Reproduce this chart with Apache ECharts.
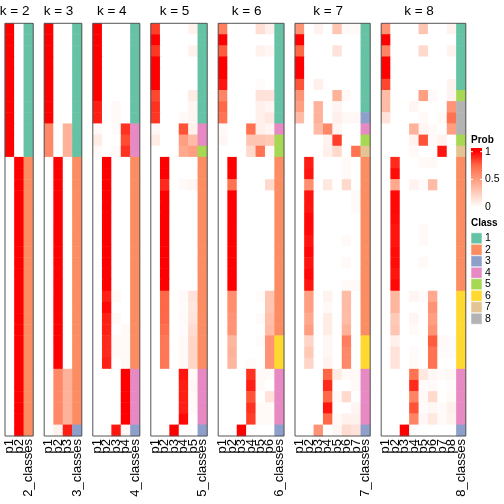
<!DOCTYPE html>
<html><head><meta charset="utf-8">
<script src="https://cdn.jsdelivr.net/npm/echarts@6/dist/echarts.min.js"></script>
<style>html,body{margin:0;padding:0;background:#fff}#c{width:504px;height:504px}</style>
</head><body><div id="c"></div>
<script>
const ks = [2,3,4,5,6,7,8];
const panelTitles = ['k = 2','k = 3','k = 4','k = 5','k = 6','k = 7','k = 8'];
const classColors = ['#66C2A5','#FC8D62','#8DA0CB','#E78AC3','#A6D854','#FFD92F','#E5C494','#B3B3B3'];
const classNames = ['1','2','3','4','5','6','7','8'];
const probTicks = ['1','0.5','0'];

const colLabels2 = ['p1','p2','2_classes'];
const colLabels3 = ['p1','p2','p3','3_classes'];
const colLabels4 = ['p1','p2','p3','p4','4_classes'];
const colLabels5 = ['p1','p2','p3','p4','p5','5_classes'];
const colLabels6 = ['p1','p2','p3','p4','p5','p6','6_classes'];
const colLabels7 = ['p1','p2','p3','p4','p5','p6','p7','7_classes'];
const colLabels8 = ['p1','p2','p3','p4','p5','p6','p7','p8','8_classes'];

const class2 = [1,1,1,1,1,1,1,1,1,1,1,1,2,2,2,2,2,2,2,2,2,2,2,2,2,2,2,2,2,2,2,2,2,2,2,2,2];
const class3 = [1,1,1,1,1,1,1,1,1,1,1,1,2,2,2,2,2,2,2,2,2,2,2,2,2,2,2,2,2,2,2,2,2,2,2,2,3];
const class4 = [1,1,1,1,1,1,1,1,1,4,4,4,2,2,2,2,2,2,2,2,2,2,2,2,2,2,2,2,2,2,2,4,4,4,4,4,3];
const class5 = [1,1,1,1,1,1,1,1,1,4,4,5,2,2,2,2,2,2,2,2,2,2,2,2,2,2,2,2,2,2,2,4,4,4,4,4,3];
const class6 = [1,1,1,1,1,1,1,1,1,4,5,5,2,2,2,2,2,2,2,2,2,2,2,2,2,2,2,2,6,6,6,4,4,4,4,4,3];
const class7 = [1,1,1,1,1,1,1,1,3,4,5,7,2,2,2,2,2,2,2,2,2,2,2,2,2,2,2,2,6,6,6,4,4,4,4,4,3];
const class8 = [1,1,1,1,1,1,5,8,8,8,5,7,2,2,2,2,2,2,2,2,2,2,2,2,6,6,6,6,6,6,6,4,4,4,4,4,3];

const prob2 = [
[1,0],[1,0],[1,0],[1,0],[1,0],[1,0],[1,0],[1,0],[1,0],[1,0],[1,0],[1,0],
[0,1],[0,1],[0,1],[0,1],[0,1],[0,1],[0,1],[0,1],[0,1],[0,1],[0,1],[0,1],[0,1],
[0,1],[0,1],[0,1],[0,1],[0,1],[0,1],[0,1],[0,1],[0,1],[0,1],[0,1],[0,1]];
const prob3 = [
[1,0,0],[1,0,0],[1,0,0],[1,0,0],[1,0,0],[1,0,0],[1,0,0],[1,0,0],[1,0,0],
[0.6,0,0.4],[0.6,0,0.4],[0.6,0,0.4],
[0,1,0],[0,1,0],[0,1,0],[0,1,0],[0,1,0],[0,1,0],[0,1,0],[0,1,0],[0,1,0],[0,1,0],
[0,1,0],[0,1,0],[0,1,0],[0,1,0],[0,1,0],[0,1,0],[0,1,0],[0,1,0],[0,1,0],
[0,0.6,0.4],[0,0.6,0.4],[0,0.6,0.4],[0,0.6,0.4],[0,0.6,0.4],
[0,0.07,0.93]];
const prob4 = [
[1,0,0,0],[1,0,0,0],[1,0,0,0],[1,0,0,0],[1,0,0,0],[1,0,0,0],[1,0,0,0],
[0.93,0,0.03,0],[0.93,0,0.03,0],
[0.03,0,0.02,0.88],[0.1,0,0,0.82],[0.03,0,0.03,0.88],
[0,1,0,0],[0,1,0,0],[0,1,0,0],[0,1,0,0],[0,1,0,0],[0,1,0,0],[0,1,0,0],[0,1,0,0],
[0,1,0,0],[0,1,0,0],[0,1,0,0],[0,1,0,0],
[0,0.92,0.03,0],[0,0.98,0,0],[0,0.92,0.03,0],[0,0.92,0,0.03],[0,0.9,0.03,0.03],
[0,0.9,0.03,0.03],[0,0.92,0,0.03],
[0,0,0,1],[0,0,0,1],[0,0,0,1],[0,0,0,1],[0,0,0,1],
[0,0,0.95,0.04]];
const prob5 = [
[0.85,0,0,0,0.07],[1,0,0,0,0],[0.87,0,0,0,0.07],[1,0,0,0,0],[1,0,0,0,0],[1,0,0,0,0],
[0.83,0,0,0,0.1],[0.88,0,0,0,0.05],[0.87,0,0,0.03,0.05],
[0.04,0,0,0.8,0.07],[0.1,0,0,0.5,0.35],[0,0,0,0.45,0.5],
[0,1,0,0,0],[0,1,0,0,0],[0,0.9,0,0.03,0.05],
[0,1,0,0,0],[0,1,0,0,0],[0,1,0,0,0],[0,1,0,0,0],[0,1,0,0,0],[0,1,0,0,0],[0,1,0,0,0],
[0,1,0,0,0],[0,1,0,0,0],
[0,0.75,0,0.03,0.15],[0,0.75,0,0.02,0.13],[0,0.75,0,0.03,0.15],[0,0.72,0,0.02,0.18],
[0,0.68,0,0.03,0.22],[0,0.68,0,0.03,0.22],[0,0.68,0,0.03,0.22],
[0,0,0,0.95,0.03],[0,0,0,0.93,0.04],[0,0,0,0.93,0.03],[0,0,0,0.93,0.03],[0,0,0,0.98,0],
[0,0,1,0,0]];
const prob6 = [
[0.65,0,0,0,0.17,0.08],[1,0,0,0,0,0],[0.78,0,0,0,0.07,0.04],[1,0,0,0,0,0],[1,0,0,0,0,0],
[0.95,0,0,0,0.02,0],[0.62,0,0,0,0.15,0.15],[0.75,0,0,0,0.08,0.05],[0.7,0,0,0,0.08,0.12],
[0.03,0,0,0.7,0.08,0.05],[0.04,0,0,0.3,0.3,0.28],[0,0,0,0.2,0.7,0.03],
[0,1,0,0,0,0],[0,1,0,0,0,0],[0,0.7,0,0,0,0.2],
[0,1,0,0,0,0],[0,1,0,0,0,0],[0,1,0,0,0,0],[0,1,0,0,0,0],[0,1,0,0,0,0],[0,1,0,0,0,0],
[0,1,0,0,0,0],[0,1,0,0,0,0],[0,1,0,0,0,0],
[0,0.58,0,0,0.02,0.3],[0,0.58,0,0,0,0.3],[0,0.55,0,0,0.02,0.33],[0,0.55,0,0,0,0.35],
[0,0.38,0,0,0.02,0.55],[0,0.4,0,0,0,0.55],[0,0.38,0,0.02,0,0.55],
[0,0,0,0.88,0.03,0.03],[0,0,0,0.93,0.03,0],[0,0,0,0.8,0,0.15],[0,0,0,0.88,0.03,0.03],
[0,0,0,0.85,0.03,0.03],
[0,0,1,0,0,0]];
const prob7 = [
[0.55,0,0.06,0,0.3,0.03,0.03],[1,0,0,0,0,0,0],[0.75,0,0,0,0.15,0,0],[1,0,0,0,0,0,0],
[1,0,0,0,0,0,0],[0.8,0,0.08,0,0,0,0],[0.55,0,0,0,0.4,0.03,0],[0.5,0,0.4,0,0.05,0,0],
[0.35,0,0.4,0,0.08,0.04,0.04],[0,0,0.35,0.6,0.05,0,0],[0,0,0,0.06,0.85,0,0],
[0,0,0,0.08,0.2,0,0.7],
[0,0.93,0,0,0,0.03,0],[0,0.95,0,0,0,0.03,0],[0,0.58,0,0.12,0,0.2,0],
[0,0.95,0,0,0,0,0.03],[0,0.95,0,0,0,0,0.03],[0,0.98,0,0,0,0,0],[0,0.98,0,0,0,0,0],
[0,0.95,0,0,0,0.03,0],[0,0.98,0,0,0,0,0],[0,0.95,0,0,0,0.03,0],[0,0.98,0,0,0,0,0],
[0,0.95,0,0,0,0.03,0.03],
[0,0.5,0,0.06,0,0.35,0],[0,0.5,0,0.03,0,0.35,0],[0,0.45,0,0.1,0,0.35,0],[0,0.5,0,0.1,0,0.4,0],
[0,0.22,0,0.04,0,0.65,0],[0,0.28,0,0.04,0,0.6,0],[0,0.22,0,0.06,0,0.6,0],
[0,0,0,0.75,0.1,0.03,0.03],[0,0,0,0.9,0,0,0.03],[0,0,0,0.75,0.03,0.2,0],[0,0,0,0.95,0,0,0.05],
[0,0,0,0.75,0.03,0.07,0.07],
[0,0,0.55,0,0.04,0.18,0.15]];
const prob8 = [
[0.55,0,0,0,0.3,0,0,0.06],[1,0,0,0,0,0,0,0],[0.62,0,0,0,0.2,0,0,0.06],[1,0,0,0,0,0,0,0],
[1,0,0,0,0,0,0,0],[0.83,0,0,0,0,0,0,0.06],[0.35,0,0,0,0.5,0.03,0,0.06],
[0.35,0,0,0.05,0,0,0,0.55],[0.15,0,0,0,0.03,0,0.03,0.7],[0,0,0,0.4,0.05,0.03,0,0.5],
[0,0,0,0.06,0.8,0.03,0.06,0],[0,0,0,0.03,0,0,0.95,0],
[0,0.9,0,0,0.03,0.03,0,0],[0,0.97,0,0,0,0,0,0],[0,0.45,0,0.06,0.02,0.35,0,0],
[0,0.98,0,0,0,0,0,0],[0,0.98,0,0,0,0,0,0],[0,0.97,0,0,0,0,0,0],[0,0.95,0,0,0.03,0,0,0],
[0,0.95,0,0,0.03,0,0,0],[0,0.97,0,0,0,0,0,0],[0,0.97,0,0,0.03,0,0,0],[0,0.95,0,0,0,0,0,0],
[0,0.98,0,0,0,0,0,0],
[0,0.38,0,0.05,0.02,0.45,0,0],[0,0.38,0,0,0,0.55,0,0],[0,0.28,0,0.05,0,0.5,0,0],
[0,0.3,0,0.03,0,0.55,0,0],[0,0.08,0,0,0,0.78,0.03,0.02],[0,0.15,0,0.02,0,0.7,0.02,0.02],
[0,0.15,0,0.03,0,0.7,0,0],
[0,0,0,0.7,0.12,0.04,0.03,0.04],[0,0,0,0.9,0.02,0.03,0,0.02],[0,0,0,0.62,0.03,0.2,0,0.03],
[0,0,0,0.8,0.02,0.04,0.02,0.08],[0,0,0,0.62,0.04,0.12,0.03,0.06],
[0,0,1,0,0,0,0,0]];

const probs = {2:prob2,3:prob3,4:prob4,5:prob5,6:prob6,7:prob7,8:prob8};
const classes = {2:class2,3:class3,4:class4,5:class5,6:class6,7:class7,8:class8};
const colLabels = {2:colLabels2,3:colLabels3,4:colLabels4,5:colLabels5,6:colLabels6,7:colLabels7,8:colLabels8};

// white (0) -> red (1), stops approximating a LAB ramp
const probRamp = ['#FFFFFF','#FFCFBF','#FF9E81','#FF6846','#FF0000'];

const FONT = '"Liberation Sans", Arial, Helvetica, sans-serif';
const colW = 9.4, gap = 11, topY = 23.3, bodyH = 412.7, left0 = 5;
const rowIds = prob2.map((_, i) => 'r' + i);

const grids = [], xAxes = [], yAxes = [], series = [], graphics = [];
const probIdx = [], classIdx = [];
let left = left0;
ks.forEach((k, i) => {
  const w = (k + 1) * colW;
  grids.push({left: left, top: topY, width: w, height: bodyH, show: false, containLabel: false});
  xAxes.push({type: 'category', gridIndex: i, data: colLabels[k], position: 'bottom',
    axisLine: {show: false}, axisTick: {show: false}, splitLine: {show: false},
    axisLabel: {rotate: 90, margin: 3, fontSize: 13, color: '#000', fontFamily: FONT, interval: 0}});
  yAxes.push({type: 'category', gridIndex: i, data: rowIds, inverse: true, show: false});
  const pd = [];
  probs[k].forEach((row, r) => row.forEach((v, c) => pd.push([c, r, v])));
  probIdx.push(series.length);
  series.push({type: 'heatmap', xAxisIndex: i, yAxisIndex: i, data: pd, progressive: 0,
    emphasis: {disabled: true}, silent: true});
  const cd = classes[k].map((v, r) => [k, r, v]);
  classIdx.push(series.length);
  series.push({type: 'heatmap', xAxisIndex: i, yAxisIndex: i, data: cd, progressive: 0,
    emphasis: {disabled: true}, silent: true});
  graphics.push({type: 'rect', z: 100, silent: true,
    shape: {x: left, y: topY, width: w, height: bodyH},
    style: {fill: 'none', stroke: '#555', lineWidth: 1}});
  graphics.push({type: 'text', z: 100, silent: true, x: left + w / 2 - 4.5, y: 11,
    style: {text: panelTitles[i], font: '13.5px ' + FONT, fill: '#000', textAlign: 'center', textVerticalAlign: 'middle'}});
  left += w + gap;
});

// legend: Prob
const LX = 471;
graphics.push({type: 'text', z: 100, x: LX, y: 140,
  style: {text: 'Prob', font: 'bold 10px ' + FONT, fill: '#000', textAlign: 'left', textVerticalAlign: 'middle'}});
graphics.push({type: 'rect', z: 100, shape: {x: LX, y: 148, width: 11, height: 60},
  style: {fill: {type: 'linear', x: 0, y: 0, x2: 0, y2: 1, colorStops: [
    {offset: 0, color: probRamp[4]}, {offset: 0.06, color: probRamp[4]},
    {offset: 0.29, color: probRamp[3]}, {offset: 0.53, color: probRamp[2]},
    {offset: 0.76, color: probRamp[1]}, {offset: 0.99, color: probRamp[0]}, {offset: 1, color: probRamp[0]}]}}});
const tickYs = [151.7, 179.4, 207];
probTicks.forEach((t, i) => {
  graphics.push({type: 'line', z: 101, shape: {x1: LX, y1: tickYs[i], x2: LX + 2, y2: tickYs[i]}, style: {stroke: '#fff', lineWidth: 1}});
  graphics.push({type: 'line', z: 101, shape: {x1: LX + 9, y1: tickYs[i], x2: LX + 11, y2: tickYs[i]}, style: {stroke: '#fff', lineWidth: 1}});
  graphics.push({type: 'text', z: 100, x: LX + 14, y: tickYs[i],
    style: {text: t, font: '10.5px ' + FONT, fill: '#000', textAlign: 'left', textVerticalAlign: 'middle'}});
});
// legend: Class
graphics.push({type: 'text', z: 100, x: LX, y: 223.3,
  style: {text: 'Class', font: 'bold 10px ' + FONT, fill: '#000', textAlign: 'left', textVerticalAlign: 'middle'}});
classNames.forEach((n, i) => {
  const cy = 238.3 + i * 11.49;
  graphics.push({type: 'rect', z: 100, shape: {x: LX, y: cy - 5.5, width: 11, height: 11},
    style: {fill: classColors[i], stroke: '#fff', lineWidth: 0.5}});
  graphics.push({type: 'text', z: 100, x: LX + 14, y: cy,
    style: {text: n, font: '10.5px ' + FONT, fill: '#000', textAlign: 'left', textVerticalAlign: 'middle'}});
});

const chart = echarts.init(document.getElementById('c'), null, {renderer: 'canvas'});
chart.setOption({
  animation: false,
  backgroundColor: '#fff',
  grid: grids, xAxis: xAxes, yAxis: yAxes,
  visualMap: [
    {type: 'continuous', show: false, min: 0, max: 1, dimension: 2, seriesIndex: probIdx,
      inRange: {color: probRamp}},
    {type: 'piecewise', show: false, dimension: 2, seriesIndex: classIdx,
      pieces: classColors.map((c, i) => ({value: i + 1, color: c}))}
  ],
  series: series,
  graphic: graphics
});
</script></body></html>
